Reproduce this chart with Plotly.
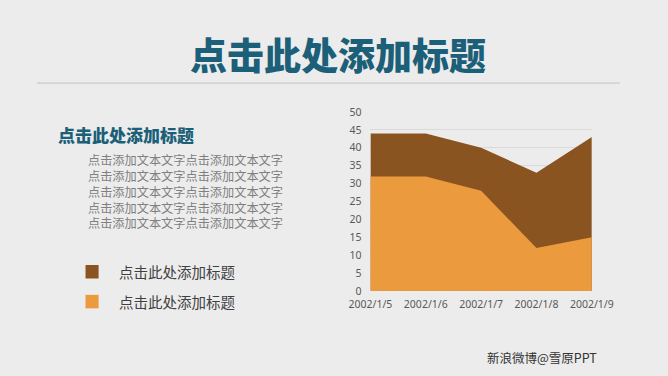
import plotly.graph_objects as go

# ---- data ----
categories = ["2002/1/5", "2002/1/6", "2002/1/7", "2002/1/8", "2002/1/9"]
series_back = [44, 44, 40, 33, 43]      # brown series
series_front = [32, 32, 28, 12, 15]     # orange series
series_names = ["点击此处添加标题", "点击此处添加标题"]
y_ticks = [0, 5, 10, 15, 20, 25, 30, 35, 40, 45, 50]
title_text = "点击此处添加标题"
sub_title = "点击此处添加标题"
body_lines = ["点击添加文本文字点击添加文本文字"] * 5
footer = "新浪微博@雪原PPT"

BROWN = "#8a5421"
ORANGE = "#eb9a3d"
TEAL = "#1b5f78"

W, H = 668, 376


def px(x):
    return x / W


def py(y):
    return 1 - y / H


fig = go.Figure()
fig.add_trace(go.Scatter(x=categories, y=series_back, mode="lines", fill="tozeroy",
                         line=dict(color=BROWN, width=0), fillcolor=BROWN,
                         name=series_names[0], showlegend=False, hoverinfo="x+y"))
fig.add_trace(go.Scatter(x=categories, y=series_front, mode="lines", fill="tozeroy",
                         line=dict(color=ORANGE, width=0), fillcolor=ORANGE,
                         name=series_names[1], showlegend=False, hoverinfo="x+y"))

fig.update_layout(
    width=W, height=H,
    margin=dict(l=0, r=0, t=0, b=0),
    paper_bgcolor="#ececec", plot_bgcolor="rgba(0,0,0,0)",
    xaxis=dict(domain=[px(373), px(610)], type="category", range=[0, 4], showgrid=False,
               showline=False, zeroline=False, ticks="", ticklabelstandoff=5,
               tickfont=dict(family="Noto Sans, DejaVu Sans", size=10.5, color="#595959")),
    yaxis=dict(domain=[py(295), py(109)], range=[0, 50], tickvals=y_ticks, showgrid=True,
               gridcolor="#d9d9d9", gridwidth=1, zeroline=False, showline=False, ticks="",
               ticklabelstandoff=8,
               tickfont=dict(family="Noto Sans, DejaVu Sans", size=10.5, color="#595959")),
    showlegend=False,
)

ann = []
ann.append(dict(text=title_text, x=px(338), y=py(49), xref="paper", yref="paper",
                showarrow=False, xanchor="center", yanchor="middle",
                font=dict(family="Noto Sans CJK SC", size=37, color=TEAL, weight=900)))
ann.append(dict(text=sub_title, x=px(36), y=py(132), xref="paper", yref="paper",
                showarrow=False, xanchor="left", yanchor="middle",
                font=dict(family="Noto Sans CJK SC", size=17, color=TEAL, weight=900)))
ann.append(dict(text="<br>".join(body_lines), x=px(69), y=py(192), xref="paper", yref="paper",
                showarrow=False, xanchor="left", yanchor="middle", align="left",
                font=dict(family="Noto Sans CJK SC", size=12.2, color="#7f7f7f")))
for i, nm in enumerate(series_names):
    ann.append(dict(text=nm, x=px(102), y=py(275 + 31 * i), xref="paper", yref="paper",
                    showarrow=False, xanchor="left", yanchor="middle",
                    font=dict(family="Noto Sans CJK SC", size=14.5, color="#404040")))
ann.append(dict(text=footer, x=px(496), y=py(364), xref="paper", yref="paper",
                showarrow=False, xanchor="left", yanchor="middle",
                font=dict(family="Noto Sans CJK SC", size=12.5, color="#333333")))
fig.update_layout(annotations=ann)

shapes = [dict(type="line", xref="paper", yref="paper", x0=px(16), x1=px(640),
               y0=py(79), y1=py(79), line=dict(color="#c4c4c4", width=1))]
for i, col in enumerate([BROWN, ORANGE]):
    cy = 275 + 31 * i
    shapes.append(dict(type="rect", xref="paper", yref="paper",
                       x0=px(68), x1=px(82), y0=py(cy - 7), y1=py(cy + 7),
                       fillcolor=col, line=dict(width=0)))
fig.update_layout(shapes=shapes)

fig.write_html("out.html", config={"displayModeBar": False},
               post_script="document.body.style.margin='0';")
